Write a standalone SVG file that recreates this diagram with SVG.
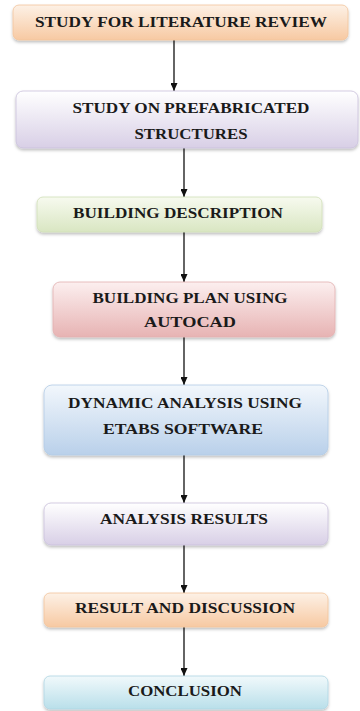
<svg xmlns="http://www.w3.org/2000/svg" width="360" height="711" viewBox="0 0 360 711">
<defs>
<linearGradient id="gOrange" x1="0" y1="0" x2="0" y2="1"><stop offset="0" stop-color="#fdf1e6"/><stop offset="1" stop-color="#f7c9a2"/></linearGradient>
<linearGradient id="gPurple" x1="0" y1="0" x2="0" y2="1"><stop offset="0" stop-color="#ffffff"/><stop offset="1" stop-color="#d8cfe6"/></linearGradient>
<linearGradient id="gGreen" x1="0" y1="0" x2="0" y2="1"><stop offset="0" stop-color="#f7faef"/><stop offset="1" stop-color="#d9e6c2"/></linearGradient>
<linearGradient id="gRed" x1="0" y1="0" x2="0" y2="1"><stop offset="0" stop-color="#fcefef"/><stop offset="1" stop-color="#e7b3b3"/></linearGradient>
<linearGradient id="gBlue" x1="0" y1="0" x2="0" y2="1"><stop offset="0" stop-color="#f2f7fc"/><stop offset="1" stop-color="#b9d0ea"/></linearGradient>
<linearGradient id="gCyan" x1="0" y1="0" x2="0" y2="1"><stop offset="0" stop-color="#f1f9fb"/><stop offset="1" stop-color="#b9dfea"/></linearGradient>
<filter id="sh" x="-5%" y="-10%" width="110%" height="130%"><feDropShadow dx="0" dy="2" stdDeviation="1.5" flood-color="#000" flood-opacity="0.25"/></filter>
<marker id="ah" markerWidth="8" markerHeight="7" refX="8" refY="3.5" orient="auto" markerUnits="userSpaceOnUse" viewBox="0 0 8 7"><path d="M0,0 L8,3.5 L0,7 Z" fill="#111"/></marker>
</defs>
<style>
.box{filter:url(#sh);stroke-width:0.8}
.t{font-family:"Liberation Serif","Times New Roman",serif;font-weight:bold;font-size:15px;fill:#1a1a1a;text-anchor:middle}
.c{stroke:#111;stroke-width:1.3;fill:none;marker-end:url(#ah)}
</style>
<g id="connectors">
<line class="c" x1="174" y1="40" x2="174" y2="91"/>
<line class="c" x1="184" y1="148" x2="184" y2="197"/>
<line class="c" x1="184" y1="232" x2="184" y2="282"/>
<line class="c" x1="184" y1="337" x2="184" y2="385"/>
<line class="c" x1="184" y1="455" x2="184" y2="503"/>
<line class="c" x1="184" y1="545" x2="184" y2="593"/>
<line class="c" x1="184" y1="627" x2="184" y2="676"/>
</g>
<g id="n1"><rect class="box" x="13" y="5" width="335" height="35" rx="6" fill="url(#gOrange)" stroke="#f3c49c"/><text class="t" x="181" y="27" textLength="292" lengthAdjust="spacingAndGlyphs">STUDY FOR LITERATURE REVIEW</text></g>
<g id="n2"><rect class="box" x="16" y="91" width="342" height="57" rx="7" fill="url(#gPurple)" stroke="#c9c0dc"/><text class="t" x="191" y="113" textLength="237" lengthAdjust="spacingAndGlyphs">STUDY ON PREFABRICATED</text><text class="t" x="191" y="139" textLength="113" lengthAdjust="spacingAndGlyphs">STRUCTURES</text></g>
<g id="n3"><rect class="box" x="37" y="197" width="285" height="35" rx="6" fill="url(#gGreen)" stroke="#d0dfb8"/><text class="t" x="178" y="218" textLength="210" lengthAdjust="spacingAndGlyphs">BUILDING DESCRIPTION</text></g>
<g id="n4"><rect class="box" x="53" y="282" width="282" height="55" rx="7" fill="url(#gRed)" stroke="#e2b0b0"/><text class="t" x="190" y="303" textLength="195" lengthAdjust="spacingAndGlyphs">BUILDING PLAN USING</text><text class="t" x="190" y="327" textLength="92" lengthAdjust="spacingAndGlyphs">AUTOCAD</text></g>
<g id="n5"><rect class="box" x="44" y="385" width="284" height="70" rx="8" fill="url(#gBlue)" stroke="#b3cbe6"/><text class="t" x="185" y="408" textLength="234" lengthAdjust="spacingAndGlyphs">DYNAMIC ANALYSIS USING</text><text class="t" x="183" y="434" textLength="160" lengthAdjust="spacingAndGlyphs">ETABS SOFTWARE</text></g>
<g id="n6"><rect class="box" x="44" y="503" width="284" height="42" rx="7" fill="url(#gPurple)" stroke="#c9c0dc"/><text class="t" x="184" y="524" textLength="168" lengthAdjust="spacingAndGlyphs">ANALYSIS RESULTS</text></g>
<g id="n7"><rect class="box" x="44" y="593" width="284" height="34" rx="6" fill="url(#gOrange)" stroke="#f3c49c"/><text class="t" x="185" y="613" textLength="220" lengthAdjust="spacingAndGlyphs">RESULT AND DISCUSSION</text></g>
<g id="n8"><rect class="box" x="44" y="676" width="284" height="33" rx="6" fill="url(#gCyan)" stroke="#aed6e3"/><text class="t" x="185" y="696" textLength="114" lengthAdjust="spacingAndGlyphs">CONCLUSION</text></g>
</svg>
